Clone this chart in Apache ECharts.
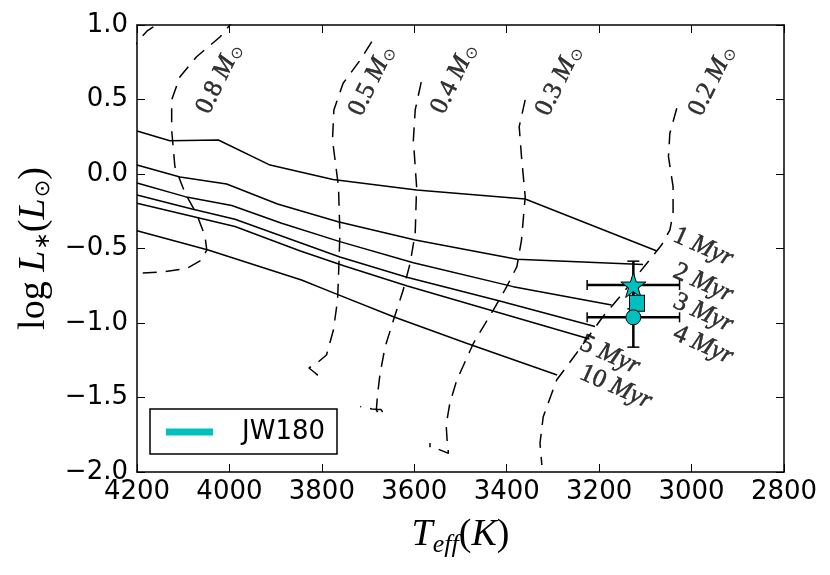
<!DOCTYPE html>
<html>
<head>
<meta charset="utf-8">
<title>JW180 HR diagram</title>
<script src="https://cdn.jsdelivr.net/npm/echarts@6/dist/echarts.min.js"></script>
<style>
html, body { margin: 0; padding: 0; background: #fff; }
#main { width: 830px; height: 575px; }
</style>
</head>
<body>
<div id="main"></div>
<script>
// isochrones, Teff (K) / log L
const iso1T = [4200, 4129, 4024, 3912, 3776, 3595, 3360, 3075];
const iso1L = [0.289, 0.223, 0.228, 0.060, -0.037, -0.107, -0.168, -0.517];
const iso2T = [4200, 4107, 4006, 3896, 3765, 3598, 3378, 3105];
const iso2L = [0.060, -0.020, -0.067, -0.201, -0.320, -0.443, -0.572, -0.607];
const iso3T = [4200, 4096, 3995, 3887, 3761, 3602, 3386, 3173];
const iso3L = [-0.060, -0.152, -0.211, -0.331, -0.454, -0.595, -0.756, -0.879];
const iso4T = [4200, 4081, 3988, 3761, 3616, 3415, 3209];
const iso4L = [-0.141, -0.235, -0.304, -0.557, -0.693, -0.852, -1.023];
const iso5T = [4200, 3988, 3848, 3751, 3615, 3221];
const iso5L = [-0.197, -0.352, -0.515, -0.617, -0.752, -1.107];
const iso10T = [4200, 4046, 3844, 3772, 3645, 3487, 3291];
const iso10L = [-0.381, -0.510, -0.711, -0.801, -0.958, -1.136, -1.349];

// mass tracks
const m10T = [4215, 4200, 4178, 4159, 4150];
const m10L = [0.800, 0.886, 0.960, 1.000, 1.050];
const m08T = [3985, 3999, 4020, 4071, 4107, 4125, 4125, 4118, 4096, 4071, 4053, 4049, 4060, 4092, 4143, 4200];
const m08L = [1.050, 1.000, 0.921, 0.787, 0.653, 0.497, 0.295, 0.049, -0.128, -0.268, -0.416, -0.510, -0.577, -0.633, -0.656, -0.667];
const m05T = [3692, 3717, 3754, 3774, 3777, 3764, 3761, 3763, 3766, 3775, 3790, 3808, 3828, 3815, 3806, 3815];
const m05L = [0.888, 0.765, 0.609, 0.430, 0.228, -0.085, -0.398, -0.599, -0.846, -1.047, -1.215, -1.262, -1.302, -1.334, -1.359, -1.371];
const m04T = [3585, 3598, 3602, 3595, 3598, 3609, 3624, 3645, 3663, 3674, 3680, 3682, 3676, 3667, 3672, 3692, 3717];
const m04L = [0.617, 0.430, 0.228, -0.085, -0.398, -0.599, -0.779, -0.980, -1.159, -1.338, -1.495, -1.584, -1.617, -1.604, -1.581, -1.577, -1.560];
const m03T = [3360, 3373, 3368, 3360, 3368, 3378, 3400, 3429, 3472, 3508, 3523, 3531, 3529, 3526, 3553, 3566, 3566];
const m03L = [0.497, 0.318, 0.116, -0.152, -0.443, -0.622, -0.756, -0.913, -1.136, -1.383, -1.537, -1.685, -1.785, -1.875, -1.841, -1.834, -1.805];
const m02T = [3032, 3047, 3050, 3040, 3040, 3047, 3065, 3094, 3155, 3192, 3249, 3292, 3321, 3328, 3324];
const m02L = [0.441, 0.273, 0.116, -0.085, -0.264, -0.376, -0.477, -0.589, -0.823, -0.958, -1.203, -1.383, -1.629, -1.807, -1.953];

// labels on the curves
const massLabels = ['0.8', '0.5', '0.4', '0.3', '0.2'];
const massLabelT = [4022, 3692, 3514, 3287, 2956];
const massLabelL = [0.640, 0.627, 0.640, 0.627, 0.627];
const ageLabels = ['1', '2', '3', '4', '5', '10'];
const ageLabelT = [2975, 2975, 2975, 2975, 3177, 3164];
const ageLabelL = [-0.490, -0.732, -0.933, -1.148, -1.215, -1.430];

// JW180
const jwT = [3126, 3118, 3126];
const jwL = [-0.745, -0.868, -0.962];
const jwMarker = ['star', 'square', 'circle'];
const jwErrT = [100, 0, 100];
const jwErrL = [0.16, 0, 0.20];

const CYAN = '#00bfbf';
const SERIF = 'Liberation Serif';
const SANS = 'DejaVu Sans';

function pairs(a, b) {
    return a.map((v, i) => [v, b[i]]);
}

// 5 point star like matplotlib '*'
function starPath() {
    let d = 'path://';
    for (let i = 0; i < 10; i++) {
        const r = i % 2 ? 0.382 : 1;
        const a = i * Math.PI / 5;
        d += (i ? 'L' : 'M') + (r * Math.sin(a)).toFixed(3) + ' ' + (-r * Math.cos(a)).toFixed(3);
    }
    return d + 'Z';
}

const markerDef = {
    star: { symbol: starPath(), size: 25 },
    square: { symbol: 'rect', size: [15, 16] },
    circle: { symbol: 'circle', size: 15 }
};

function isoLine(t, l) {
    return {
        type: 'line', data: pairs(t, l), symbol: 'none', silent: true, z: 2,
        lineStyle: { color: '#000', width: 1.5 }
    };
}
function trackLine(t, l) {
    return {
        type: 'line', data: pairs(t, l), symbol: 'none', silent: true, z: 2,
        lineStyle: { color: '#000', width: 1.5, type: [14, 9] }
    };
}

const axisCommon = {
    axisLine: { onZero: false, lineStyle: { color: '#000', width: 1.5 } },
    axisTick: { inside: true, length: 8, lineStyle: { color: '#000', width: 1 } },
    splitLine: { show: false }
};

// thin black outline so the serif labels read as dark as the original
const txt = { color: '#000', textBorderColor: '#000', textBorderWidth: 0.5, textShadowBlur: 0 };

const myChart = echarts.init(document.getElementById('main'));

const option = {
    animation: false,
    backgroundColor: '#fff',
    grid: { left: 137, right: 46, top: 25, bottom: 103, containLabel: false },
    legend: {
        data: [{ name: 'JW180', icon: 'rect' }],
        left: 150, top: 409,
        backgroundColor: '#fff',
        borderColor: '#000', borderWidth: 1.5, borderRadius: 0,
        padding: [10, 12, 9, 16],
        itemWidth: 47, itemHeight: 7,
        itemStyle: { color: CYAN, borderWidth: 0 },
        selectedMode: false,
        formatter: '{a|{name}}',
        textStyle: {
            color: '#000', fontFamily: SANS, fontSize: 26,
            rich: { a: { color: '#000', fontFamily: SANS, fontSize: 26, padding: [0, 0, 0, 24] } }
        }
    },
    xAxis: [
        Object.assign({}, axisCommon, {
            type: 'value', min: 2800, max: 4200, interval: 200, inverse: true, position: 'bottom',
            axisLabel: { color: '#000', fontFamily: SANS, fontSize: 26, margin: 7, formatter: v => String(v) },
            name: '{i|T}{s|eff}{m|(}{i|K}{m|)}',
            nameLocation: 'middle', nameGap: 40,
            nameTextStyle: {
                color: '#000',
                rich: {
                    i: { fontFamily: SERIF, fontStyle: 'italic', fontSize: 38, color: '#000' },
                    m: { fontFamily: SERIF, fontSize: 38, color: '#000' },
                    s: { fontFamily: SERIF, fontStyle: 'italic', fontSize: 26, color: '#000', padding: [20, 0, 0, 0] }
                }
            }
        }),
        Object.assign({}, axisCommon, {
            type: 'value', min: 2800, max: 4200, interval: 200, inverse: true, position: 'top',
            axisLabel: { show: false }
        })
    ],
    yAxis: [
        Object.assign({}, axisCommon, {
            type: 'value', min: -2, max: 1, interval: 0.5, position: 'left',
            axisLabel: {
                color: '#000', fontFamily: SANS, fontSize: 26, margin: 9,
                formatter: v => (v < 0 ? '\u2212' : '') + Math.abs(v).toFixed(1)
            },
            name: '{m|log }{i|L}{s|\u2217}{m|(}{i|L}{s|\u2299}{m|)}',
            nameLocation: 'middle', nameRotate: 90, nameGap: 82,
            nameTextStyle: {
                color: '#000',
                rich: {
                    i: { fontFamily: SERIF, fontStyle: 'italic', fontSize: 38, color: '#000' },
                    m: { fontFamily: SERIF, fontSize: 38, color: '#000' },
                    s: { fontFamily: SANS, fontSize: 21, color: '#000', padding: [18, 0, 0, 1] }
                }
            }
        }),
        Object.assign({}, axisCommon, {
            type: 'value', min: -2, max: 1, interval: 0.5, position: 'right',
            axisLabel: { show: false }
        })
    ],
    series: [
        isoLine(iso1T, iso1L),
        isoLine(iso2T, iso2L),
        isoLine(iso3T, iso3L),
        isoLine(iso4T, iso4L),
        isoLine(iso5T, iso5L),
        isoLine(iso10T, iso10L),
        trackLine(m10T, m10L),
        trackLine(m08T, m08L),
        trackLine(m05T, m05L),
        trackLine(m04T, m04L),
        trackLine(m03T, m03L),
        trackLine(m02T, m02L),
        {
            type: 'scatter', silent: true, symbolSize: 0, z: 5,
            data: pairs(massLabelT, massLabelL),
            label: Object.assign({
                show: true, position: 'inside', rotate: 64,
                formatter: p => '{n|' + massLabels[p.dataIndex] + ' }{m|M}{s|\u2299}',
                rich: {
                    n: Object.assign({ fontFamily: SERIF, fontSize: 26 }, txt),
                    m: Object.assign({ fontFamily: SERIF, fontStyle: 'italic', fontSize: 26 }, txt),
                    s: Object.assign({ fontFamily: SANS, fontSize: 16, padding: [11, 0, 0, 1] }, txt, { textBorderWidth: 0 })
                }
            }, txt)
        },
        {
            type: 'scatter', silent: true, symbolSize: 0, z: 5,
            data: pairs(ageLabelT, ageLabelL),
            label: Object.assign({
                show: true, position: 'inside', rotate: -24,
                formatter: p => '{n|' + ageLabels[p.dataIndex] + ' }{m|Myr}',
                rich: {
                    n: Object.assign({ fontFamily: SERIF, fontSize: 26 }, txt),
                    m: Object.assign({ fontFamily: SERIF, fontStyle: 'italic', fontSize: 26 }, txt)
                }
            }, txt)
        },
        {
            // error bars
            type: 'custom', silent: true, z: 3,
            data: jwT.map((t, i) => [t, jwL[i], jwErrT[i], jwErrL[i]]).filter(d => d[2] || d[3]),
            renderItem: function (params, api) {
                const t = api.value(0), l = api.value(1), et = api.value(2), el = api.value(3);
                const c = api.coord([t, l]);
                const xl = api.coord([t + et, l])[0], xr = api.coord([t - et, l])[0];
                const yt = api.coord([t, l + el])[1], yb = api.coord([t, l - el])[1];
                const st = { stroke: '#000', lineWidth: 2.5 };
                const cap = { stroke: '#000', lineWidth: 1.5 };
                return {
                    type: 'group',
                    children: [
                        { type: 'line', shape: { x1: xl, y1: c[1], x2: xr, y2: c[1] }, style: st },
                        { type: 'line', shape: { x1: c[0], y1: yt, x2: c[0], y2: yb }, style: st },
                        { type: 'line', shape: { x1: xl, y1: c[1] - 5, x2: xl, y2: c[1] + 5 }, style: cap },
                        { type: 'line', shape: { x1: xr, y1: c[1] - 5, x2: xr, y2: c[1] + 5 }, style: cap },
                        { type: 'line', shape: { x1: c[0] - 6, y1: yt, x2: c[0] + 6, y2: yt }, style: cap },
                        { type: 'line', shape: { x1: c[0] - 6, y1: yb, x2: c[0] + 6, y2: yb }, style: cap }
                    ]
                };
            }
        },
        {
            name: 'JW180', type: 'scatter', z: 4,
            data: jwT.map((t, i) => ({
                value: [t, jwL[i]],
                symbol: markerDef[jwMarker[i]].symbol,
                symbolSize: markerDef[jwMarker[i]].size
            })),
            itemStyle: { color: CYAN, borderColor: '#000', borderWidth: 1, opacity: 1 }
        }
    ]
};

myChart.setOption(option);
</script>
</body>
</html>
